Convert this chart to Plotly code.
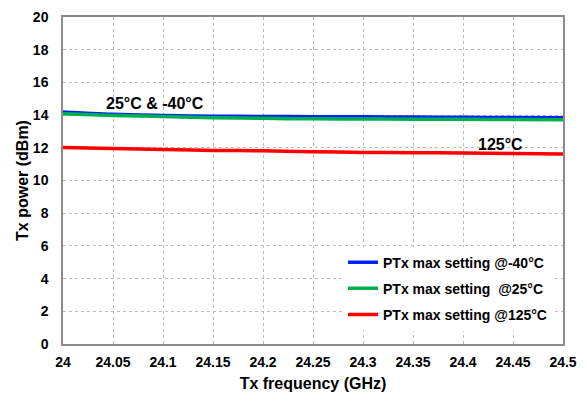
import plotly.graph_objects as go

freq = [24.0, 24.05, 24.1, 24.15, 24.2, 24.25, 24.3, 24.35, 24.4, 24.45, 24.5]
p_m40 = [14.19, 14.05, 13.98, 13.93, 13.92, 13.90, 13.90, 13.88, 13.87, 13.85, 13.84]
p_25 = [14.09, 13.98, 13.91, 13.84, 13.80, 13.77, 13.76, 13.75, 13.74, 13.73, 13.72]
p_125 = [12.02, 11.95, 11.90, 11.84, 11.82, 11.76, 11.72, 11.70, 11.68, 11.65, 11.62]

names = ["PTx max setting @-40°C", "PTx max setting  @25°C", "PTx max setting @125°C"]
colors = ["#0022FF", "#00B050", "#FF0000"]
series = [p_m40, p_25, p_125]

x_ticks = [24, 24.05, 24.1, 24.15, 24.2, 24.25, 24.3, 24.35, 24.4, 24.45, 24.5]
x_tick_text = ["24", "24.05", "24.1", "24.15", "24.2", "24.25", "24.3", "24.35", "24.4", "24.45", "24.5"]
y_ticks = [0, 2, 4, 6, 8, 10, 12, 14, 16, 18, 20]

FONT = "Liberation Sans, Arial, sans-serif"

fig = go.Figure()
for i, (nm, c, s) in enumerate(zip(names, colors, series)):
    fig.add_trace(go.Scatter(
        x=freq, y=s, mode="lines", name=nm, legendgroup=f"g{i}",
        line=dict(color=c, width=3.5, shape="spline"),
    ))

fig.add_annotation(x=24.092, y=14.72, text="<b>25°C & -40°C</b>", showarrow=False,
                   font=dict(family=FONT, size=16, color="#000000"))
fig.add_annotation(x=24.437, y=12.22, text="<b>125°C</b>", showarrow=False,
                   font=dict(family=FONT, size=16, color="#000000"))

axis_common = dict(
    showline=True, linecolor="#8C8C8C", linewidth=1.5, mirror=True,
    showgrid=True, gridcolor="#BDBDBD", griddash="dot", gridwidth=1,
    zeroline=False, ticks="", automargin=False,
    tickfont=dict(family=FONT, size=14, color="#000000", weight="bold"),
)

# page body has an 8px margin, so the figure is sized to fit the window exactly
fig.update_layout(
    width=578, height=386,
    margin=dict(l=55, r=23, t=9, b=50, autoexpand=False),
    paper_bgcolor="white", plot_bgcolor="white",
    font=dict(family=FONT, color="#000000"),
    showlegend=True,
    legend=dict(
        x=0.56, y=0.298, xanchor="left", yanchor="top",
        bgcolor="white", borderwidth=0,
        font=dict(family=FONT, size=14, color="#000000", weight="bold"),
        tracegroupgap=5, traceorder="grouped",
    ),
    xaxis=dict(
        range=[24, 24.5], tickvals=x_ticks, ticktext=x_tick_text,
        title=dict(text="<b>Tx frequency (GHz)</b>", font=dict(family=FONT, size=16, color="#000000"), standoff=9),
        ticklabelstandoff=4,
        **axis_common,
    ),
    yaxis=dict(
        range=[0, 20], tickvals=y_ticks,
        title=dict(text="<b>Tx power (dBm)</b>", font=dict(family=FONT, size=16, color="#000000"), standoff=0),
        ticklabelstandoff=10,
        **axis_common,
    ),
)

fig.write_html("out.html")
